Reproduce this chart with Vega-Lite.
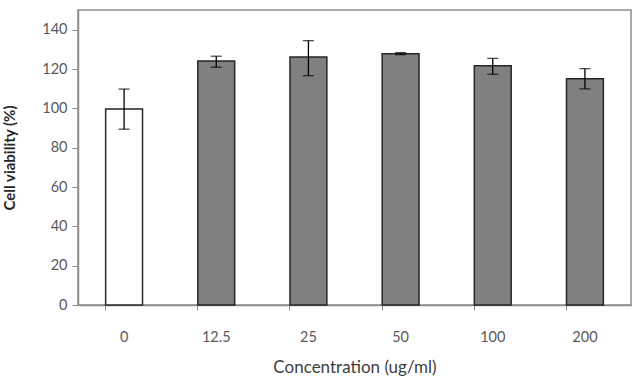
{
  "$schema": "https://vega.github.io/schema/vega-lite/v6.json",
  "width": 553,
  "height": 295,
  "autosize": {"type": "none"},
  "padding": {"left": 78, "top": 10, "right": 10, "bottom": 73},
  "background": "white",
  "config": {
    "font": "Lato",
    "view": {"stroke": "#8c8c8c", "strokeWidth": 1.5}
  },
  "data": {
    "values": [
      {"concentration": "0", "viability": 99.6, "lo": 89.4, "hi": 109.8, "group": "control"},
      {"concentration": "12.5", "viability": 124.1, "lo": 120.9, "hi": 126.5, "group": "treated"},
      {"concentration": "25", "viability": 126.1, "lo": 116.6, "hi": 134.4, "group": "treated"},
      {"concentration": "50", "viability": 127.8, "lo": 127.3, "hi": 128.3, "group": "treated"},
      {"concentration": "100", "viability": 121.7, "lo": 117.3, "hi": 125.4, "group": "treated"},
      {"concentration": "200", "viability": 115.1, "lo": 109.9, "hi": 120.2, "group": "treated"}
    ]
  },
  "encoding": {
    "x": {
      "field": "concentration",
      "type": "nominal",
      "sort": null,
      "scale": {"paddingInner": 0.6, "paddingOuter": 0.3},
      "axis": {
        "title": "Concentration (ug/ml)",
        "titleFont": "Lato",
        "titleFontSize": 17,
        "titleFontWeight": "normal",
        "titleColor": "#404040",
        "titlePadding": 16,
        "labelAngle": 0,
        "labelFontSize": 14.5,
        "labelColor": "#595959",
        "labelPadding": 20,
        "bandPosition": 0,
        "tickSize": 5,
        "tickColor": "#8c8c8c",
        "domainColor": "#8c8c8c",
        "domainWidth": 1.5,
        "grid": false
      }
    }
  },
  "layer": [
    {
      "mark": {"type": "bar", "stroke": "#262626", "strokeWidth": 1.5},
      "encoding": {
        "y": {
          "field": "viability",
          "type": "quantitative",
          "title": "Cell viability (%)",
          "scale": {"domain": [0, 150], "nice": false},
          "axis": {
            "titleFontSize": 15,
            "titleFontWeight": "bold",
            "titleColor": "#262626",
            "titlePadding": 24,
            "values": [0, 20, 40, 60, 80, 100, 120, 140],
            "labelFontSize": 14.5,
            "labelColor": "#595959",
            "labelPadding": 5,
            "tickSize": 6,
            "tickColor": "#8c8c8c",
            "domainColor": "#8c8c8c",
            "domainWidth": 1.5,
            "grid": false
          }
        },
        "fill": {
          "field": "group",
          "type": "nominal",
          "scale": {"domain": ["control", "treated"], "range": ["white", "#808080"]},
          "legend": null
        }
      }
    },
    {
      "mark": {"type": "errorbar", "ticks": {"size": 11, "color": "black"}, "color": "black", "thickness": 1.3},
      "encoding": {
        "y": {"field": "lo", "type": "quantitative", "title": "Cell viability (%)"},
        "y2": {"field": "hi"}
      }
    }
  ]
}
